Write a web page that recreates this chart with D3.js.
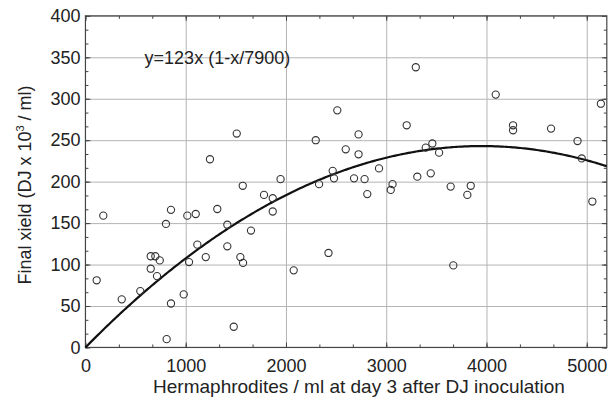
<!DOCTYPE html>
<html>
<head>
<meta charset="utf-8">
<script src="https://cdn.jsdelivr.net/npm/d3@7"></script>
<style>
  body { margin: 0; background: #fff; }
  svg text { font-family: "Liberation Sans", Arial, sans-serif; fill: #222; }
</style>
</head>
<body>
<div id="chart"></div>
<script>
// hermaphrodites / ml at day 3 (x) vs final DJ yield x10^3 / ml (y)
const hermaphrodites = [
  112, 178, 362, 547, 651, 697, 741, 651, 714, 803, 853, 853, 810, 980, 1016, 1100,
  1033, 1116, 1200, 1242, 1315, 1415, 1415, 1479, 1509, 1545, 1572, 1569, 1651, 1781,
  1868, 1868, 1946, 2077, 2297, 2330, 2424, 2466, 2479, 2512, 2596, 2679, 2724, 2724,
  2784, 2811, 2928, 3045, 3063, 3204, 3295, 3310, 3394, 3444, 3460, 3527, 3643, 3669,
  3809, 3843, 4092, 4265, 4265, 4644, 4908, 4950, 5056, 5141
];
const finalYield = [
  81, 159, 58, 68, 110, 110, 105, 95, 86, 149, 166, 53, 10, 64, 159, 161,
  103, 124, 109, 227, 167, 148, 122, 25, 258, 109, 102, 195, 141, 184,
  180, 164, 203, 93, 250, 197, 114, 213, 204, 286, 239, 204, 257, 233,
  203, 185, 216, 190, 197, 268, 338, 206, 241, 210, 246, 235, 194, 99,
  184, 195, 305, 268, 262, 264, 249, 228, 176, 294
];

// fitted model y = a x (1 - x/K), with y in 10^3 / ml
const fitA = 0.123;
const fitK = 7900;
const fitLabel = "y=123x (1-x/7900)";

const xTicks = [0, 1000, 2000, 3000, 4000, 5000];
const yTicks = [0, 50, 100, 150, 200, 250, 300, 350, 400];
const xTitle = "Hermaphrodites / ml at day 3 after DJ inoculation";

const width = 615, height = 403;
const margin = { top: 15.85, right: 8.2, bottom: 55.55, left: 85.45 };
const innerW = width - margin.left - margin.right;
const innerH = height - margin.top - margin.bottom;

const svg = d3.select("#chart").append("svg")
  .attr("width", width)
  .attr("height", height);

const g = svg.append("g")
  .attr("transform", `translate(${margin.left},${margin.top})`);

const x = d3.scaleLinear().domain([0, 5200]).range([0, innerW]);
const y = d3.scaleLinear().domain([0, 400]).range([innerH, 0]);

const xMinor = d3.range(0, 5200, 1000 / 3);
const yMinor = d3.range(0, 400, 50 / 3);
const fmt = d3.format("d");

// grid
g.append("g")
  .attr("class", "grid")
  .attr("transform", `translate(0,${innerH})`)
  .call(d3.axisBottom(x).tickValues(xTicks.slice(1)).tickSize(-innerH).tickFormat(""))
  .call(s => s.select(".domain").remove());
g.append("g")
  .attr("class", "grid")
  .call(d3.axisLeft(y).tickValues(yTicks.slice(1)).tickSize(-innerW).tickFormat(""))
  .call(s => s.select(".domain").remove());
g.selectAll(".grid line").attr("stroke", "#b4b4b4").attr("stroke-width", 1);

// inward ticks on all four sides
function ticks(axis, transform) {
  const sel = g.append("g").attr("class", "ticks");
  if (transform) sel.attr("transform", transform);
  sel.call(axis).call(s => s.select(".domain").remove());
  sel.selectAll("line").attr("stroke", "#444");
  return sel;
}
ticks(d3.axisBottom(x).tickValues(xMinor).tickSize(-3).tickFormat(""), `translate(0,${innerH})`);
ticks(d3.axisTop(x).tickValues(xMinor).tickSize(-3).tickFormat(""));
ticks(d3.axisLeft(y).tickValues(yMinor).tickSize(-3).tickFormat(""));
ticks(d3.axisRight(y).tickValues(yMinor).tickSize(-3).tickFormat(""), `translate(${innerW},0)`);

ticks(d3.axisBottom(x).tickValues(xTicks).tickFormat(fmt).tickSize(-5).tickPadding(12), `translate(0,${innerH})`);
const yAxis = ticks(d3.axisLeft(y).tickValues(yTicks).tickFormat(fmt).tickSize(-5).tickPadding(10));
ticks(d3.axisTop(x).tickValues(xTicks).tickSize(-5).tickFormat(""));
ticks(d3.axisRight(y).tickValues(yTicks).tickSize(-5).tickFormat(""), `translate(${innerW},0)`);

svg.selectAll(".ticks text")
  .attr("font-size", 18)
  .attr("font-family", "Liberation Sans, Arial, sans-serif")
  .attr("fill", "#222");
yAxis.selectAll("text").attr("x", -5);

// frame
g.append("rect")
  .attr("width", innerW)
  .attr("height", innerH)
  .attr("fill", "none")
  .attr("stroke", "#444")
  .attr("stroke-width", 1.2);

// fitted curve
const curveX = d3.range(0, 5201, 20);
const line = d3.line()
  .x(d => x(d))
  .y(d => y(fitA * d * (1 - d / fitK)));
g.append("path")
  .attr("d", line(curveX))
  .attr("fill", "none")
  .attr("stroke", "#111")
  .attr("stroke-width", 2.2);

// points
g.append("g")
  .selectAll("circle")
  .data(hermaphrodites.map((h, i) => [h, finalYield[i]]))
  .join("circle")
  .attr("cx", d => x(d[0]))
  .attr("cy", d => y(d[1]))
  .attr("r", 3.6)
  .attr("fill", "none")
  .attr("stroke", "#333")
  .attr("stroke-width", 1.1);

// equation
g.append("text")
  .attr("x", x(590))
  .attr("y", y(350) + 6.5)
  .attr("font-size", 18)
  .text(fitLabel);

// axis titles
svg.append("text")
  .attr("x", 359)
  .attr("y", 393)
  .attr("text-anchor", "middle")
  .attr("font-size", 19)
  .text(xTitle);

const yTitle = svg.append("text")
  .attr("transform", `translate(31,${185}) rotate(-90)`)
  .attr("text-anchor", "middle")
  .attr("font-size", 18);
yTitle.append("tspan").text("Final xield (DJ x 10");
yTitle.append("tspan").attr("dy", -7).attr("font-size", 11).text("3");
yTitle.append("tspan").attr("dy", 7).text(" / ml)");
</script>
</body>
</html>
